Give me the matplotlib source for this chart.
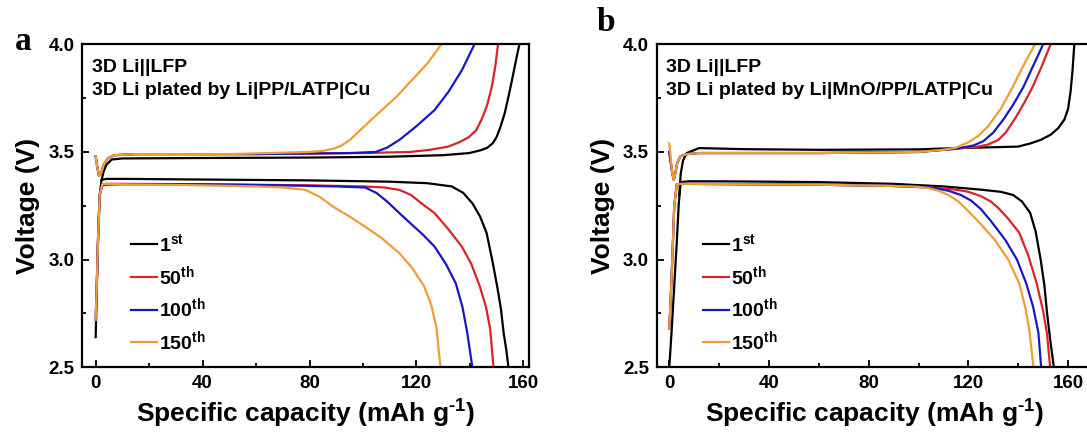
import numpy as np
import matplotlib
matplotlib.use("Agg")
import matplotlib.pyplot as plt
from matplotlib.ticker import MultipleLocator, AutoMinorLocator

# =========================
# DATA  (capacity mAh/g, voltage V)
# =========================
CYCLE_LABELS = [r"1$^{st}$", r"50$^{th}$", r"100$^{th}$", r"150$^{th}$"]
COLORS = ["#000000", "#dd2228", "#1717c8", "#ef9d34"]

# ---- panel a : Li|PP/LATP|Cu ----
a_chg_1_x = [2.2, 3, 4, 6, 10, 40, 80, 110, 130, 139.8, 144, 146.4, 148.5, 150, 151.5, 153, 154.1, 155.5, 156.8, 157.8, 158.5]
a_chg_1_v = [3.37, 3.41, 3.44, 3.465, 3.47, 3.472, 3.474, 3.478, 3.485, 3.495, 3.508, 3.519, 3.54, 3.57, 3.62, 3.68, 3.74, 3.82, 3.90, 3.96, 4.0]
a_chg_50_x = [0, 0.6, 1.2, 2, 3, 4.5, 7, 15, 60, 100, 117.6, 125, 131.9, 136, 139.5, 142.3, 144.5, 146.5, 148.3, 149.5, 150.5]
a_chg_50_v = [3.48, 3.43, 3.39, 3.40, 3.44, 3.47, 3.485, 3.49, 3.49, 3.495, 3.50, 3.51, 3.525, 3.545, 3.568, 3.60, 3.655, 3.72, 3.81, 3.90, 4.0]
a_chg_100_x = [0, 0.6, 1.2, 2, 3, 4.5, 7, 15, 60, 95, 104.7, 109, 113.6, 120, 126.8, 132, 137, 141.7]
a_chg_100_v = [3.48, 3.43, 3.39, 3.40, 3.44, 3.47, 3.485, 3.49, 3.49, 3.495, 3.50, 3.52, 3.556, 3.62, 3.695, 3.78, 3.88, 4.0]
a_chg_150_x = [0, 0.6, 1.2, 2, 3, 4.5, 7, 15, 50, 80, 85, 89, 92, 95, 98, 104, 112.4, 118, 124, 129.3]
a_chg_150_v = [3.48, 3.43, 3.39, 3.40, 3.44, 3.47, 3.485, 3.49, 3.49, 3.50, 3.505, 3.515, 3.53, 3.555, 3.59, 3.66, 3.755, 3.83, 3.91, 4.0]

a_dis_1_x = [0, 0.4, 0.9, 1.5, 2.2, 4, 10, 40, 80, 110, 124, 133.2, 137.5, 141, 143.8, 146.2, 148.3, 150.2, 151.6, 152.6, 153.6, 154.4]
a_dis_1_v = [2.64, 2.85, 3.10, 3.30, 3.37, 3.375, 3.375, 3.372, 3.368, 3.362, 3.355, 3.34, 3.31, 3.26, 3.20, 3.125, 3.00, 2.875, 2.77, 2.66, 2.58, 2.5]
a_dis_50_x = [0, 0.4, 0.9, 1.5, 2.5, 4, 10, 40, 80, 100, 108, 113.6, 118, 122, 126.8, 132, 137, 140.5, 143.7, 146, 147.6, 148.8]
a_dis_50_v = [2.72, 2.88, 3.10, 3.30, 3.35, 3.352, 3.352, 3.35, 3.345, 3.34, 3.335, 3.324, 3.30, 3.26, 3.216, 3.14, 3.06, 2.98, 2.875, 2.78, 2.676, 2.5]
a_dis_100_x = [0, 0.4, 0.9, 1.5, 2.5, 4, 10, 40, 70, 90, 100.8, 105, 109, 113.6, 118.5, 122.5, 126.8, 131, 134.7, 137.2, 139, 140.9]
a_dis_100_v = [2.72, 2.88, 3.10, 3.30, 3.345, 3.348, 3.35, 3.35, 3.345, 3.34, 3.335, 3.31, 3.27, 3.216, 3.16, 3.115, 3.06, 2.98, 2.89, 2.78, 2.66, 2.5]
a_dis_150_x = [0, 0.4, 0.9, 1.5, 2.5, 4, 10, 40, 60, 70, 78.5, 84, 88.9, 95, 100.8, 107, 113.6, 118.5, 122.9, 125.5, 127.4, 129]
a_dis_150_v = [2.72, 2.88, 3.10, 3.30, 3.35, 3.352, 3.35, 3.345, 3.34, 3.335, 3.324, 3.29, 3.245, 3.20, 3.153, 3.10, 3.03, 2.96, 2.875, 2.79, 2.69, 2.5]

# ---- panel b : Li|MnO/PP/LATP|Cu ----
b_chg_1_x = [4.0, 4.6, 5.5, 7, 12, 30, 60, 100, 115, 130, 140, 145, 149, 153, 156, 158.5, 160, 161, 161.8, 162.5]
b_chg_1_v = [3.30, 3.40, 3.46, 3.495, 3.518, 3.513, 3.51, 3.512, 3.518, 3.522, 3.525, 3.54, 3.556, 3.58, 3.61, 3.65, 3.70, 3.78, 3.88, 4.0]
b_chg_50_x = [0, 0.6, 1.2, 1.8, 2.4, 3.2, 4.5, 7, 12, 60, 100, 115, 124, 128, 132, 135, 139, 142.5, 145.7, 149.5, 153]
b_chg_50_v = [3.50, 3.45, 3.40, 3.37, 3.40, 3.45, 3.48, 3.49, 3.495, 3.495, 3.50, 3.515, 3.525, 3.535, 3.556, 3.59, 3.66, 3.73, 3.80, 3.90, 4.0]
b_chg_100_x = [0, 0.6, 1.2, 1.8, 2.4, 3.2, 4.5, 7, 12, 60, 100, 115, 122, 126, 130, 134, 138, 142, 146, 150]
b_chg_100_v = [3.50, 3.45, 3.40, 3.37, 3.40, 3.45, 3.48, 3.49, 3.495, 3.495, 3.50, 3.515, 3.53, 3.55, 3.59, 3.65, 3.72, 3.80, 3.90, 4.0]
b_chg_150_x = [0, 0.6, 1.2, 1.8, 2.4, 3.2, 4.5, 7, 12, 60, 100, 110, 115, 120, 124, 128, 133, 137.7, 142, 146.7]
b_chg_150_v = [3.54, 3.47, 3.40, 3.37, 3.40, 3.45, 3.48, 3.49, 3.495, 3.495, 3.50, 3.51, 3.52, 3.545, 3.575, 3.62, 3.70, 3.80, 3.90, 4.0]

b_dis_1_x = [0, 1, 2, 3, 3.8, 4.6, 8, 30, 60, 90, 110, 125, 133, 138, 141.5, 144.8, 147, 149, 150.5, 151.5, 152.8, 154.3]
b_dis_1_v = [2.5, 2.68, 2.88, 3.08, 3.26, 3.36, 3.364, 3.363, 3.36, 3.352, 3.34, 3.325, 3.315, 3.30, 3.27, 3.217, 3.13, 3.0, 2.88, 2.76, 2.63, 2.5]
b_dis_50_x = [0, 0.5, 1.2, 2, 3, 5, 30, 60, 90, 105, 115, 120, 125, 129, 132, 136, 140.4, 144, 147.4, 150, 151.5, 152.8]
b_dis_50_v = [2.68, 2.80, 3.0, 3.25, 3.35, 3.352, 3.35, 3.348, 3.342, 3.335, 3.325, 3.315, 3.295, 3.27, 3.24, 3.19, 3.125, 3.02, 2.89, 2.76, 2.66, 2.5]
b_dis_100_x = [0, 0.5, 1.2, 2, 3, 5, 30, 60, 90, 105, 112, 117, 121, 125, 129, 134.9, 139.5, 143.2, 146, 148.1, 149.2]
b_dis_100_v = [2.68, 2.80, 3.0, 3.25, 3.35, 3.352, 3.35, 3.348, 3.342, 3.335, 3.32, 3.30, 3.275, 3.235, 3.18, 3.09, 3.0, 2.89, 2.78, 2.66, 2.5]
b_dis_150_x = [0, 0.5, 1.2, 2, 3, 5, 30, 60, 90, 100, 104, 108, 112, 116, 120, 125, 130.7, 136, 140.4, 143, 144.6, 146.1]
b_dis_150_v = [2.68, 2.80, 3.0, 3.25, 3.35, 3.352, 3.35, 3.348, 3.342, 3.338, 3.332, 3.32, 3.30, 3.27, 3.225, 3.165, 3.09, 3.0, 2.89, 2.77, 2.66, 2.5]

A_NOTE = "3D Li||LFP\n3D Li plated by Li|PP/LATP|Cu"
B_NOTE = "3D Li||LFP\n3D Li plated by Li|MnO/PP/LATP|Cu"

# =========================
# STYLE
# =========================
plt.rcParams["font.family"] = ["Liberation Sans", "DejaVu Sans"]
plt.rcParams["font.weight"] = "bold"
plt.rcParams["mathtext.fontset"] = "custom"
plt.rcParams["mathtext.rm"] = "Liberation Sans:bold"
plt.rcParams["mathtext.bf"] = "Liberation Sans:bold"
plt.rcParams["mathtext.it"] = "Liberation Sans:bold"
plt.rcParams["mathtext.default"] = "rm"

W, H = 1087, 432
LW = 1.6


def fig_rect(left, right, top, bottom):
    # pixel box -> figure fraction
    return [left / W, (H - bottom) / H, (right - left) / W, (bottom - top) / H]


def style_axes(ax, xlim):
    ax.set_xlim(*xlim)
    ax.set_ylim(2.5, 4.0)
    ax.xaxis.set_major_locator(MultipleLocator(40))
    ax.xaxis.set_minor_locator(AutoMinorLocator(2))
    ax.yaxis.set_major_locator(MultipleLocator(0.5))
    ax.yaxis.set_minor_locator(AutoMinorLocator(2))
    ax.tick_params(which="both", direction="in", width=1.3, labelsize=13.5, pad=5.5)
    ax.tick_params(which="major", length=5)
    ax.tick_params(which="minor", length=3)
    ax.yaxis.set_major_formatter(plt.FormatStrFormatter("%.1f"))
    for s in ax.spines.values():
        s.set_linewidth(1.6)
    ax.set_xlabel(r"Specific capacity (mAh g$^{\text{-1}}$)", fontsize=19, fontweight="bold", labelpad=4)
    ax.set_ylabel("Voltage (V)", fontsize=19, fontweight="bold", labelpad=6)


def draw_panel(ax, charges, discharges, note, note_x, leg_x):
    handles = []
    for (cx, cv), (dx, dv), color, label in zip(charges, discharges, COLORS, CYCLE_LABELS):
        ax.plot(dx, dv, color=color, lw=LW)
        h, = ax.plot(cx, cv, color=color, lw=LW, label=label)
        handles.append(h)
    ax.text(note_x, 0.955, note, transform=ax.transAxes, fontsize=14, fontweight="bold",
            va="top", ha="left", linespacing=1.45)
    ax.legend(handles=handles, loc="upper left", bbox_to_anchor=(leg_x, 0.415), frameon=False,
              fontsize=14, handlelength=1.3, handletextpad=0.1, labelspacing=0.45,
              borderpad=0, borderaxespad=0)


# =========================
# MAIN
# =========================
def main():
    fig = plt.figure(figsize=(W / 100, H / 100), dpi=100)

    ax_a = fig.add_axes(fig_rect(82.3, 529.3, 44.3, 367.3))
    ax_b = fig.add_axes(fig_rect(656.7, 1093, 44.3, 367.3))

    draw_panel(
        ax_a,
        [(a_chg_1_x, a_chg_1_v), (a_chg_50_x, a_chg_50_v), (a_chg_100_x, a_chg_100_v), (a_chg_150_x, a_chg_150_v)],
        [(a_dis_1_x, a_dis_1_v), (a_dis_50_x, a_dis_50_v), (a_dis_100_x, a_dis_100_v), (a_dis_150_x, a_dis_150_v)],
        A_NOTE, 0.022, 0.11,
    )
    draw_panel(
        ax_b,
        [(b_chg_1_x, b_chg_1_v), (b_chg_50_x, b_chg_50_v), (b_chg_100_x, b_chg_100_v), (b_chg_150_x, b_chg_150_v)],
        [(b_dis_1_x, b_dis_1_v), (b_dis_50_x, b_dis_50_v), (b_dis_100_x, b_dis_100_v), (b_dis_150_x, b_dis_150_v)],
        B_NOTE, 0.021, 0.107,
    )
    style_axes(ax_a, (-5.0, 162.2))
    style_axes(ax_b, (-5.05, 170.0))

    fig.text(15 / W, 1 - 50 / H, "a", fontsize=24, fontweight="bold",
             family=["Liberation Serif", "DejaVu Serif"], va="baseline")
    fig.text(597 / W, 1 - 31 / H, "b", fontsize=24, fontweight="bold",
             family=["Liberation Serif", "DejaVu Serif"], va="baseline")

    fig.savefig("out.png", dpi=100)


if __name__ == "__main__":
    main()
